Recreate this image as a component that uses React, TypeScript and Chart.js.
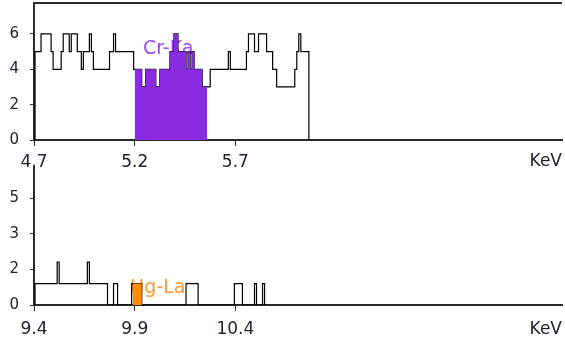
import React, { useEffect, useRef } from 'react';
import { Chart, registerables } from 'chart.js';

Chart.register(...registerables);

// ---- data ----
const CHANNEL_KEV = 0.01;

const TOP_START_KEV = 4.7;
const TOP_COUNTS = [
  0, 5, 5, 5, 6, 6, 6, 6, 6, 5,
  4, 4, 4, 4, 5, 6, 6, 6, 5, 6,
  6, 6, 5, 5, 4, 5, 5, 5, 6, 5,
  4, 4, 4, 4, 4, 4, 4, 4, 5, 5,
  6, 5, 5, 5, 5, 5, 5, 5, 5, 5,
  4, 4, 4, 4, 3, 3, 4, 4, 4, 4,
  4, 3, 3, 4, 4, 4, 4, 4, 5, 5,
  6, 6, 5, 5, 5, 5, 4, 5, 4, 5,
  4, 4, 4, 4, 3, 3, 3, 3, 4, 4,
  4, 4, 4, 4, 4, 4, 4, 5, 4, 4,
  4, 4, 4, 4, 4, 4, 5, 6, 6, 6,
  5, 5, 6, 6, 6, 6, 5, 5, 5, 4,
  4, 3, 3, 3, 3, 3, 3, 3, 3, 3,
  4, 5, 6, 5, 5, 5, 5, 0,
];
const TOP_PEAK_CHANNELS = [50, 86];
const TOP_PEAK_LABEL = 'Cr-Ka';
const TOP_PEAK_LABEL_AT = [5.241, 5.12];
const TOP_X_TICKS = [4.7, 5.2, 5.7];
const TOP_Y_TICKS = [0, 2, 4, 6];
const TOP_X_MAX = 7.322;
const TOP_Y_MAX = 7.75;

const BOTTOM_START_KEV = 9.4;
const BOTTOM_COUNTS = [
  0, 1, 1, 1, 1, 1, 1, 1, 1, 1,
  1, 1, 2, 1, 1, 1, 1, 1, 1, 1,
  1, 1, 1, 1, 1, 1, 1, 2, 1, 1,
  1, 1, 1, 1, 1, 1, 1, 0, 0, 0,
  1, 1, 0, 0, 0, 0, 0, 0, 0, 1,
  1, 1, 1, 1, 0, 0, 0, 0, 0, 0,
  0, 0, 0, 0, 0, 0, 0, 0, 0, 0,
  0, 0, 0, 0, 0, 0, 1, 1, 1, 1,
  1, 1, 0, 0, 0, 0, 0, 0, 0, 0,
  0, 0, 0, 0, 0, 0, 0, 0, 0, 0,
  1, 1, 1, 1, 0, 0, 0, 0, 0, 0,
  1, 0, 0, 0, 1, 0,
];
const BOTTOM_PEAK_CHANNELS = [49, 54];
const BOTTOM_PEAK_LABEL = 'Hg-La';
const BOTTOM_PEAK_LABEL_AT = [9.877, 0.8];
const BOTTOM_X_TICKS = [9.4, 9.9, 10.4];
const BOTTOM_Y_TICKS = [0, 5 / 3, 10 / 3, 5];
const BOTTOM_X_MAX = 12.022;
const BOTTOM_Y_MAX = 6.45;

const UNIT_LABEL = 'KeV';

// ---- styles ----
const AXIS_COLOR = '#2a2a2a';
const TEXT_COLOR = '#222233';
const FONT_FAMILY = '"DejaVu Sans", Verdana, sans-serif';

const overlayPlugin = {
  id: 'overlay',
  beforeDatasetsDraw(chart: any, _args: any, opts: any) {
    const { ctx, scales } = chart;
    ctx.save();
    ctx.font = `19px ${FONT_FAMILY}`;
    ctx.fillStyle = opts.peakColor;
    ctx.textAlign = 'left';
    ctx.textBaseline = 'middle';
    ctx.fillText(
      opts.peakText,
      scales.x.getPixelForValue(opts.peakAt[0]),
      scales.y.getPixelForValue(opts.peakAt[1])
    );
    ctx.restore();
  },
  afterDraw(chart: any, _args: any, opts: any) {
    const { ctx, chartArea } = chart;
    ctx.save();
    if (opts.topBorder) {
      ctx.strokeStyle = AXIS_COLOR;
      ctx.lineWidth = 2;
      ctx.beginPath();
      ctx.moveTo(chartArea.left, chartArea.top);
      ctx.lineTo(chartArea.right, chartArea.top);
      ctx.stroke();
    }
    ctx.font = `17px ${FONT_FAMILY}`;
    ctx.fillStyle = TEXT_COLOR;
    ctx.textAlign = 'right';
    ctx.textBaseline = 'middle';
    ctx.fillText(opts.unit, chartArea.right, chartArea.bottom + opts.unitOffset);
    ctx.restore();
  },
};

type PanelProps = {
  start: number;
  counts: number[];
  peakChannels: number[];
  peakColor: string;
  peakTextColor: string;
  peakText: string;
  peakAt: number[];
  xTicks: number[];
  yTicks: number[];
  xMax: number;
  yMax: number;
  width: number;
  height: number;
  padTop: number;
  xAxisHeight: number;
  labelPad: number;
  unitOffset: number;
  topBorder: boolean;
  roundY: boolean;
};

function Panel(p: PanelProps) {
  const ref = useRef<HTMLCanvasElement | null>(null);
  useEffect(() => {
    if (!ref.current) return;
    const pts = p.counts.map((c, i) => ({ x: p.start + i * CHANNEL_KEV, y: c }));
    const peakPts = pts.slice(p.peakChannels[0], p.peakChannels[1] + 1);
    const chart = new Chart(ref.current, {
      type: 'line',
      data: {
        datasets: [
          {
            data: peakPts,
            borderWidth: 0,
            borderColor: 'rgba(0,0,0,0)',
            backgroundColor: p.peakColor,
            fill: 'origin',
            pointRadius: 0,
            stepped: 'middle',
            order: 0,
          },
          {
            data: pts,
            borderColor: '#000',
            borderWidth: 1.2,
            fill: false,
            pointRadius: 0,
            stepped: 'middle',
            order: 1,
          },
        ],
      },
      options: {
        animation: false,
        responsive: false,
        devicePixelRatio: 1,
        layout: { padding: { top: p.padTop, right: 3, left: 0, bottom: 0 } },
        plugins: {
          legend: { display: false },
          tooltip: { enabled: false },
          overlay: {
            topBorder: p.topBorder,
            unit: UNIT_LABEL,
            unitOffset: p.unitOffset,
            peakText: p.peakText,
            peakAt: p.peakAt,
            peakColor: p.peakTextColor,
          },
        } as any,
        scales: {
          x: {
            type: 'linear',
            min: p.start,
            max: p.xMax,
            afterFit: (s: any) => {
              s.height = p.xAxisHeight;
              s.paddingLeft = 0;
              s.paddingRight = 0;
              s.paddingTop = 0;
              s.paddingBottom = 0;
            },
            afterBuildTicks: (s: any) => {
              s.ticks = p.xTicks.map((v) => ({ value: v }));
            },
            grid: {
              drawOnChartArea: false,
              drawTicks: true,
              tickLength: 6,
              color: AXIS_COLOR,
              lineWidth: 1,
            },
            border: { display: true, color: AXIS_COLOR, width: 2 },
            ticks: {
              color: TEXT_COLOR,
              font: { family: FONT_FAMILY, size: 17 },
              padding: p.labelPad,
              maxRotation: 0,
              autoSkip: false,
              callback: (v: any) => Number(v).toFixed(1),
            },
          },
          y: {
            type: 'linear',
            min: 0,
            max: p.yMax,
            afterFit: (s: any) => {
              s.width = 34;
              s.paddingLeft = 0;
              s.paddingRight = 0;
              s.paddingTop = 0;
              s.paddingBottom = 0;
            },
            afterBuildTicks: (s: any) => {
              s.ticks = p.yTicks.map((v) => ({ value: v }));
            },
            grid: {
              drawOnChartArea: false,
              drawTicks: true,
              tickLength: 4,
              color: AXIS_COLOR,
              lineWidth: 1,
            },
            border: { display: true, color: AXIS_COLOR, width: 2 },
            ticks: {
              color: TEXT_COLOR,
              font: { family: FONT_FAMILY, size: 15 },
              padding: 11,
              autoSkip: false,
              callback: (v: any) => (p.roundY ? String(Math.round(Number(v))) : String(v)),
            },
          },
        },
      },
      plugins: [overlayPlugin as any],
    });
    return () => chart.destroy();
  }, []);
  return (
    <canvas
      ref={ref}
      width={p.width}
      height={p.height}
      style={{ display: 'block', width: p.width, height: p.height }}
    />
  );
}

export default function App() {
  return (
    <div style={{ position: 'fixed', left: 0, top: 0, width: 565, height: 340, background: '#fff' }}>
      <div style={{ position: 'absolute', left: 0, top: 0 }}>
        <Panel
          start={TOP_START_KEV}
          counts={TOP_COUNTS}
          peakChannels={TOP_PEAK_CHANNELS}
          peakColor="#8a2be2"
          peakTextColor="#9d45f0"
          peakText={TOP_PEAK_LABEL}
          peakAt={TOP_PEAK_LABEL_AT}
          xTicks={TOP_X_TICKS}
          yTicks={TOP_Y_TICKS}
          xMax={TOP_X_MAX}
          yMax={TOP_Y_MAX}
          width={565}
          height={168}
          padTop={3}
          xAxisHeight={28}
          labelPad={6}
          unitOffset={22}
          topBorder={true}
          roundY={false}
        />
      </div>
      <div style={{ position: 'absolute', left: 0, top: 165 }}>
        <Panel
          start={BOTTOM_START_KEV}
          counts={BOTTOM_COUNTS}
          peakChannels={BOTTOM_PEAK_CHANNELS}
          peakColor="#ff8c00"
          peakTextColor="#ff9a2e"
          peakText={BOTTOM_PEAK_LABEL}
          peakAt={BOTTOM_PEAK_LABEL_AT}
          xTicks={BOTTOM_X_TICKS}
          yTicks={BOTTOM_Y_TICKS}
          xMax={BOTTOM_X_MAX}
          yMax={BOTTOM_Y_MAX}
          width={565}
          height={175}
          padTop={2}
          xAxisHeight={35}
          labelPad={8}
          unitOffset={24.5}
          topBorder={false}
          roundY={true}
        />
      </div>
    </div>
  );
}
